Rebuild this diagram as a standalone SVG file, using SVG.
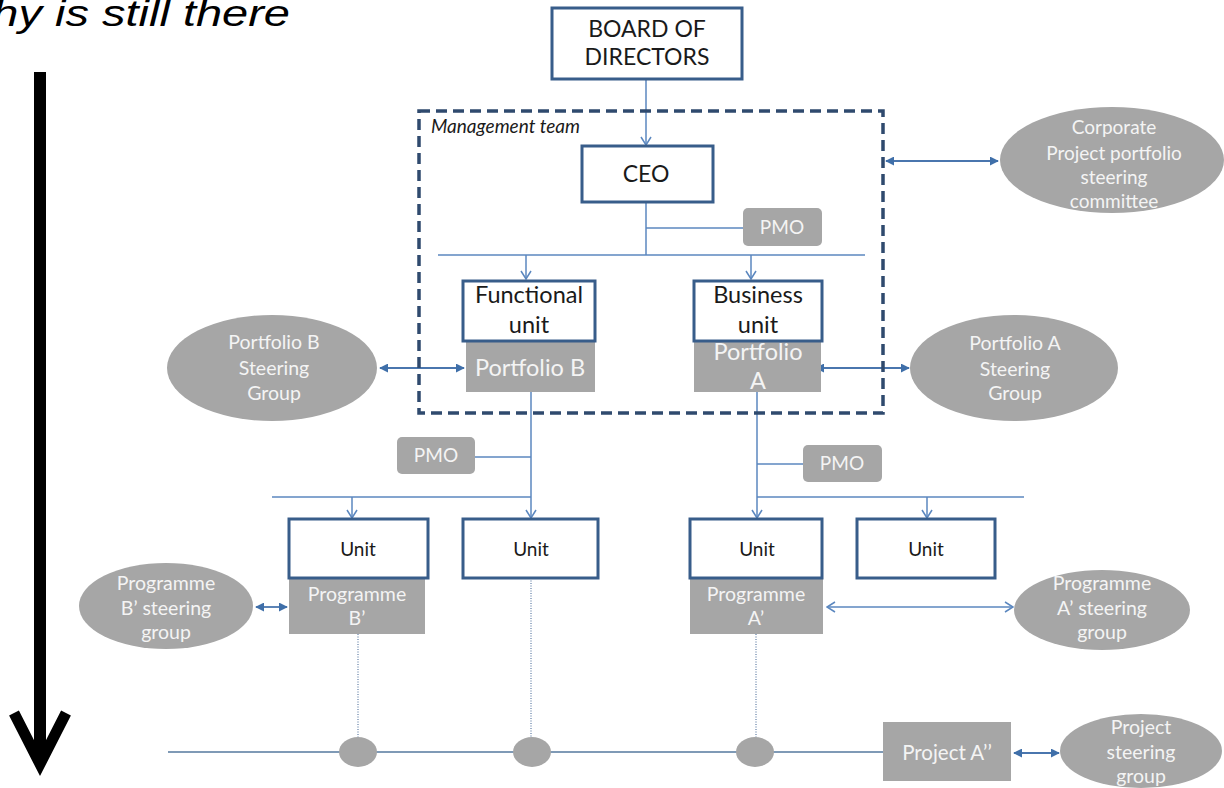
<svg xmlns="http://www.w3.org/2000/svg" width="1224" height="788" viewBox="0 0 1224 788">
  <style>
    text { font-family: Lato, "Liberation Sans", Arial, sans-serif; }
    .box { fill: #ffffff; stroke: #385d8a; stroke-width: 3; }
    .grey { fill: #a6a6a6; stroke: none; }
    .pmo { fill: #a6a6a6; stroke: none; }
    .dark { fill: #1a1a1a; text-anchor: middle; }
    .light { fill: #f4f4f4; text-anchor: middle; }
    .link { fill: none; stroke: #5b87bf; stroke-width: 1.5; }
    .dbl { fill: none; stroke: #4a76ae; stroke-width: 1.8; }
    .dots { fill: none; stroke: #9fb1c9; stroke-width: 2; stroke-dasharray: 1 1.5; }
    .base { fill: none; stroke: #7f9ab6; stroke-width: 2; }
  </style>
  <defs>
    <marker id="vhead" viewBox="0 0 10 12" refX="9" refY="6" markerWidth="10" markerHeight="12" markerUnits="userSpaceOnUse" orient="auto-start-reverse">
      <path d="M1,1 L9,6 L1,11" fill="none" stroke="#5b87bf" stroke-width="1.5"/>
    </marker>
    <marker id="tri" viewBox="0 0 10 10" refX="9" refY="5" markerWidth="9" markerHeight="9" markerUnits="userSpaceOnUse" orient="auto-start-reverse">
      <path d="M0,0 L10,5 L0,10 Z" fill="#3f6fa9"/>
    </marker>
  </defs>

  <rect width="1224" height="788" fill="#ffffff"/>

  <!-- caption at the top, running off the left edge -->
  <text transform="translate(290,26) scale(1.27,1)" text-anchor="end" font-style="italic" font-size="37" fill="#000" style="font-family:'Liberation Sans', Arial, sans-serif">hy is still there</text>

  <!-- time / hierarchy arrow -->
  <g id="hierarchy-arrow" stroke="#000" fill="none">
    <line x1="40" y1="72" x2="40" y2="762" stroke-width="12"/>
    <path d="M14,713 L40,764 L66,713" stroke-width="11" stroke-linejoin="miter"/>
  </g>

  <!-- connectors -->
  <g id="connectors">
    <line class="link" x1="646" y1="80" x2="646" y2="145" marker-end="url(#vhead)"/>
    <line class="link" x1="646" y1="202" x2="646" y2="255"/>
    <line class="link" x1="646" y1="228" x2="743" y2="228"/>
    <line class="link" x1="438" y1="255" x2="865" y2="255"/>
    <line class="link" x1="526" y1="255" x2="526" y2="279" marker-end="url(#vhead)"/>
    <line class="link" x1="751" y1="255" x2="751" y2="279" marker-end="url(#vhead)"/>

    <line class="dbl" x1="886" y1="161" x2="998" y2="161" marker-start="url(#tri)" marker-end="url(#tri)"/>
    <line class="dbl" x1="380" y1="368" x2="464" y2="368" marker-start="url(#tri)" marker-end="url(#tri)"/>
    <line class="dbl" x1="816" y1="368" x2="909" y2="368" marker-start="url(#tri)" marker-end="url(#tri)"/>

    <line class="link" x1="531" y1="392" x2="531" y2="518" marker-end="url(#vhead)"/>
    <line class="link" x1="475" y1="457" x2="531" y2="457"/>
    <line class="link" x1="272" y1="497" x2="531" y2="497"/>
    <line class="link" x1="352" y1="497" x2="352" y2="518" marker-end="url(#vhead)"/>

    <line class="link" x1="757" y1="392" x2="757" y2="518" marker-end="url(#vhead)"/>
    <line class="link" x1="757" y1="464" x2="803" y2="464"/>
    <line class="link" x1="757" y1="497" x2="1024" y2="497"/>
    <line class="link" x1="927" y1="497" x2="927" y2="518" marker-end="url(#vhead)"/>

    <line class="dbl" x1="256" y1="607" x2="287" y2="607" marker-start="url(#tri)" marker-end="url(#tri)"/>
    <line class="link" x1="827" y1="607" x2="1013" y2="607" marker-start="url(#vhead)" marker-end="url(#vhead)"/>

    <line class="dots" x1="358" y1="634" x2="358" y2="738"/>
    <line class="dots" x1="531" y1="578" x2="531" y2="738"/>
    <line class="dots" x1="756" y1="634" x2="756" y2="738"/>
    <line class="base" x1="168" y1="752" x2="883" y2="752"/>

    <line class="dbl" x1="1014" y1="753" x2="1059" y2="753" marker-start="url(#tri)" marker-end="url(#tri)"/>
  </g>

  <!-- management team frame -->
  <g id="management-team">
    <rect x="419" y="111" width="464" height="302" fill="none" stroke="#2f4a6e" stroke-width="3.5" stroke-dasharray="11 6"/>
    <text x="431" y="133" font-size="19" font-style="italic" fill="#1a1a1a">Management team</text>
  </g>

  <g id="board">
    <rect class="box" x="552" y="8" width="190" height="71"/>
    <text class="dark" x="647" y="37" font-size="23">BOARD OF</text>
    <text class="dark" x="647" y="65" font-size="23">DIRECTORS</text>
  </g>

  <g id="ceo">
    <rect class="box" x="582" y="146" width="131" height="56"/>
    <text class="dark" x="646" y="182" font-size="23">CEO</text>
  </g>

  <g id="pmo-top">
    <rect class="pmo" x="743" y="208" width="79" height="38" rx="5"/>
    <text class="light" x="782" y="234" font-size="19">PMO</text>
  </g>

  <g id="corporate-committee">
    <ellipse class="grey" cx="1112" cy="160" rx="112" ry="53"/>
    <text class="light" x="1114" y="134" font-size="19">Corporate</text>
    <text class="light" x="1114" y="160" font-size="19">Project portfolio</text>
    <text class="light" x="1114" y="184" font-size="19">steering</text>
    <text class="light" x="1114" y="208" font-size="19">committee</text>
  </g>

  <g id="functional-unit">
    <rect class="grey" x="466" y="341" width="129" height="51"/>
    <rect class="box" x="463" y="281" width="132" height="60"/>
    <text class="dark" x="529" y="303" font-size="23.5">Functional</text>
    <text class="dark" x="529" y="333" font-size="23.5">unit</text>
    <text class="light" x="530" y="376" font-size="23.5">Portfolio B</text>
  </g>

  <g id="business-unit">
    <rect class="grey" x="694" y="341" width="127" height="51"/>
    <rect class="box" x="694" y="281" width="128" height="60"/>
    <text class="dark" x="758" y="303" font-size="23.5">Business</text>
    <text class="dark" x="758" y="333" font-size="23.5">unit</text>
    <text class="light" x="758" y="360" font-size="23.5">Portfolio</text>
    <text class="light" x="758" y="389" font-size="23.5">A</text>
  </g>

  <g id="portfolio-b-steering">
    <ellipse class="grey" cx="272" cy="368" rx="105" ry="53"/>
    <text class="light" x="274" y="349" font-size="19.5">Portfolio  B</text>
    <text class="light" x="274" y="375" font-size="19.5">Steering</text>
    <text class="light" x="274" y="400" font-size="19.5">Group</text>
  </g>

  <g id="portfolio-a-steering">
    <ellipse class="grey" cx="1014" cy="368" rx="104" ry="53"/>
    <text class="light" x="1015" y="350" font-size="19.5">Portfolio  A</text>
    <text class="light" x="1015" y="376" font-size="19.5">Steering</text>
    <text class="light" x="1015" y="400" font-size="19.5">Group</text>
  </g>

  <g id="pmo-b">
    <rect class="pmo" x="397" y="437" width="78" height="37" rx="5"/>
    <text class="light" x="436" y="462" font-size="19">PMO</text>
  </g>

  <g id="pmo-a">
    <rect class="pmo" x="803" y="445" width="79" height="37" rx="5"/>
    <text class="light" x="842" y="470" font-size="19">PMO</text>
  </g>

  <g id="unit-b1">
    <rect class="grey" x="289" y="578" width="136" height="56"/>
    <rect class="box" x="289" y="519" width="139" height="59"/>
    <text class="dark" x="358" y="556" font-size="19">Unit</text>
    <text class="light" x="357" y="601" font-size="19.5">Programme</text>
    <text class="light" x="357" y="625" font-size="19.5">B’</text>
  </g>

  <g id="unit-b2">
    <rect class="box" x="463" y="519" width="135" height="59"/>
    <text class="dark" x="531" y="556" font-size="19">Unit</text>
  </g>

  <g id="unit-a1">
    <rect class="grey" x="690" y="578" width="133" height="56"/>
    <rect class="box" x="690" y="519" width="132" height="59"/>
    <text class="dark" x="757" y="556" font-size="19">Unit</text>
    <text class="light" x="756" y="601" font-size="19.5">Programme</text>
    <text class="light" x="756" y="625" font-size="19.5">A’</text>
  </g>

  <g id="unit-a2">
    <rect class="box" x="857" y="519" width="138" height="59"/>
    <text class="dark" x="926" y="556" font-size="19">Unit</text>
  </g>

  <g id="programme-b-steering">
    <ellipse class="grey" cx="166" cy="606" rx="87" ry="43"/>
    <text class="light" x="166" y="590" font-size="19.5">Programme</text>
    <text class="light" x="166" y="615" font-size="19.5">B’ steering</text>
    <text class="light" x="166" y="639" font-size="19.5">group</text>
  </g>

  <g id="programme-a-steering">
    <ellipse class="grey" cx="1102" cy="610" rx="88" ry="40"/>
    <text class="light" x="1102" y="590" font-size="19.5">Programme</text>
    <text class="light" x="1102" y="615" font-size="19.5">A’ steering</text>
    <text class="light" x="1102" y="639" font-size="19.5">group</text>
  </g>

  <g id="project-nodes">
    <ellipse class="grey" cx="358" cy="752" rx="19" ry="15"/>
    <ellipse class="grey" cx="532" cy="752" rx="19" ry="15"/>
    <ellipse class="grey" cx="755" cy="752" rx="19" ry="15"/>
  </g>

  <g id="project-a">
    <rect class="grey" x="883" y="722" width="128" height="59"/>
    <text class="light" x="947" y="760" font-size="20.5">Project A’’</text>
  </g>

  <g id="project-steering">
    <ellipse class="grey" cx="1141" cy="751" rx="81" ry="37"/>
    <text class="light" x="1141" y="734" font-size="19.5">Project</text>
    <text class="light" x="1141" y="759" font-size="19.5">steering</text>
    <text class="light" x="1141" y="783" font-size="19.5">group</text>
  </g>
</svg>
